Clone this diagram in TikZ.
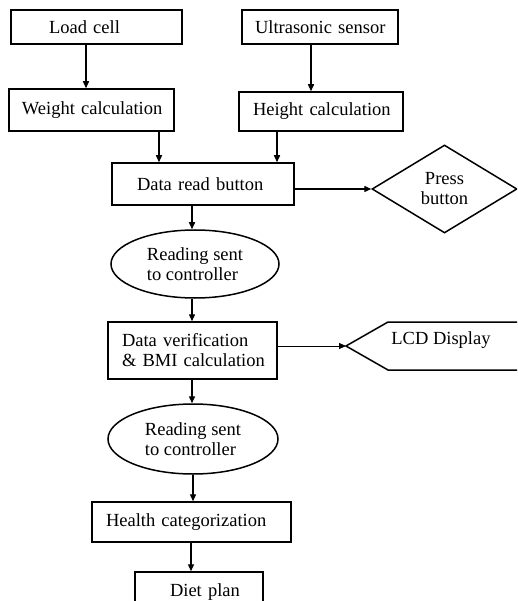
\documentclass[tikz,border=0pt]{standalone}
\usepackage{fontspec}
\setmainfont{Liberation Serif}
\usetikzlibrary{shapes.geometric,arrows.meta}
\begin{document}
\begin{tikzpicture}[x=1pt,y=-1pt,
  every node/.style={font=\fontsize{18.5}{20}\selectfont},
  box/.style={draw, line width=1.5pt, rectangle, inner sep=0pt, align=left},
  oval/.style={draw, line width=1.5pt, ellipse, inner sep=0pt, align=left},
  decision/.style={draw, line width=1.5pt, diamond, inner sep=0pt, align=center},
  arr/.style={line width=1.4pt, -{Triangle[width=6pt,length=7pt]}},
  thinarr/.style={line width=0.8pt, -{Triangle[width=6pt,length=7pt]}}]
\useasboundingbox (0,0) rectangle (517,601);
\clip (0,0) rectangle (517,601);

% boxes
\node[box, text width=171pt, minimum height=34pt] (load) at (96.5,27) {\hspace*{38pt}Load cell};
\node[box, text width=156pt, minimum height=34pt] (ultra) at (320,27) {\hspace*{13pt}Ultrasonic sensor};
\node[box, text width=165pt, minimum height=42pt] (weight) at (91.5,110) {\hspace*{13pt}Weight calculation};
\node[box, text width=164pt, minimum height=39pt] (height) at (321,111.5) {\hspace*{14pt}Height calculation};
\node[box, text width=182pt, minimum height=42pt] (dataread) at (203,184) {\hspace*{25pt}Data read button};
\node[decision, minimum width=145pt, minimum height=88pt] (press) at (444.5,189) {Press\\button};
\node[oval, minimum width=168pt, minimum height=68pt] (ell1) at (195,264) {Reading sent\\to controller};
\node[box, text width=169pt, minimum height=57pt] (dataver) at (192.5,350.5) {\hspace*{14pt}Data verification\\\hspace*{14pt}\& BMI calculation};
\node[oval, minimum width=170pt, minimum height=70pt] (ell2) at (193,439) {Reading sent\\to controller};
\node[box, text width=199pt, minimum height=40pt] (health) at (191.5,522) {\hspace*{14pt}Health categorization};
\node[box, text width=128pt, minimum height=40pt] (diet) at (199,592) {\hspace*{35pt}Diet plan};

% LCD display shape
\coordinate (lcdtip) at (346,346);
\draw[line width=1.5pt] (530,322) -- (388,322) -- (lcdtip) -- (388,370) -- (530,370);
\node (lcd) at (441,340) {LCD Display};

% arrow x positions
\coordinate (xa) at (86,0);
\coordinate (xb) at (311,0);
\coordinate (xc) at (159,0);
\coordinate (xd) at (277,0);
\coordinate (xe) at (192,0);
\coordinate (xf) at (193,0);
\coordinate (xg) at (191,0);

% connectors
\draw[arr] (load.south -| xa) -- (weight.north -| xa);
\draw[arr] (ultra.south -| xb) -- (height.north -| xb);
\draw[arr] (weight.south -| xc) -- (dataread.north -| xc);
\draw[arr] (height.south -| xd) -- (dataread.north -| xd);
\draw[arr] (dataread.east |- press.west) -- (press.west);
\draw[arr] (dataread.south -| xe) -- (ell1.north -| xe);
\draw[arr] (ell1.south -| xe) -- (dataver.north -| xe);
\draw[thinarr] (dataver.east |- lcdtip) -- (lcdtip);
\draw[arr] (dataver.south -| xe) -- (ell2.north -| xe);
\draw[arr] (ell2.south -| xf) -- (health.north -| xf);
\draw[arr] (health.south -| xg) -- (diet.north -| xg);
\end{tikzpicture}
\end{document}
